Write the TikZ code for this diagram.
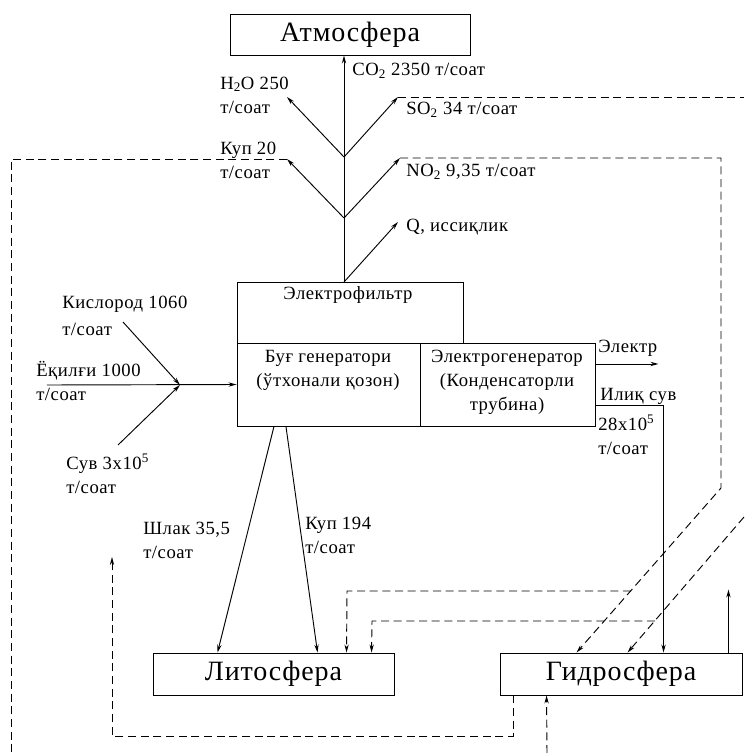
\documentclass[tikz,border=0pt]{standalone}
\usepackage{fontspec}
\setmainfont{Liberation Serif}[LetterSpace=3]
\usetikzlibrary{arrows.meta}

\tikzset{
  box/.style={draw, line width=0.7pt, inner sep=0pt},
  lbl/.style={font=\fontsize{14}{18}\selectfont, align=left, inner sep=0pt},
  big/.style={font=\fontsize{21}{24}\selectfont},
  dsh/.style={line width=0.7pt, dash pattern=on 6pt off 3.5pt},
  flow/.style={line width=0.7pt, -{Stealth[length=6pt,width=3.2pt]}},
  back/.style={flow, dash pattern=on 6pt off 3.5pt},
}

\begin{document}
\begin{tikzpicture}[x=0.75pt,y=-0.75pt]
\useasboundingbox (0,0) rectangle (744,753);
% spheres and plant
\node[box, big, minimum width=180pt, minimum height=30.75pt] (atm) at (350,34.5) {Атмосфера};
\node[box, minimum width=169.5pt, minimum height=45.75pt] (filt) at (350,312.5) {};
\node[box, minimum width=137.25pt, minimum height=62.25pt] (bug) at (328.5,384.5) {};
\node[box, minimum width=131.25pt, minimum height=62.25pt] (gen) at (507.5,384.5) {};
\node[box, big, minimum width=180.75pt, minimum height=31.5pt] (lit) at (273.5,674) {Литосфера};
\node[box, big, minimum width=181.5pt, minimum height=31.5pt] (gid) at (621,674) {Гидросфера};
\node[lbl, align=center] (filttxt) at (348,295) {Электрофильтр};
\node[lbl, align=center] (bugtxt) at (328,370) {Буғ генератори\\(ўтхонали қозон)};
\node[lbl, align=center] (gentxt) at (507,382) {Электрогенератор\\(Конденсаторли\\трубина)};

% emissions
\coordinate (t0) at (344,282);
\coordinate (b1) at (344,157);
\coordinate (b2) at (344,218);
\coordinate (h2o) at (287,97);
\coordinate (so2) at (398,97);
\coordinate (kup) at (287,159);
\coordinate (no2) at (400,158);
\coordinate (q) at (398,222);
\draw[flow] (t0) -- (t0 |- atm.south);
\draw[flow] (b1) -- (h2o);
\draw[flow] (b1) -- (so2);
\draw[flow] (b2) -- (kup);
\draw[flow] (b2) -- (no2);
\draw[flow] (t0) -- (q);

% inputs
\coordinate (mix) at (180,385);
\coordinate (fuel) at (47,385);
\coordinate (oxy) at (123,322);
\coordinate (wat) at (118,445);
\draw[flow] (fuel) -- (bug.west);
\draw[flow] (oxy) -- (mix);
\draw[flow] (wat) -- (mix);

% outputs
\draw[flow] ([xshift=-40.9pt]bug.south) -- ([xshift=48.75pt]lit.north west);
\draw[flow] ([xshift=-31.9pt]bug.south) -- ([xshift=123.75pt]lit.north west);
\draw[flow] ([yshift=15.4pt]gen.east) -- ++(63,0) coordinate (el);
\draw[flow] ([yshift=-15.4pt]gen.east) -| ([xshift=123pt]gid.north west);
\draw[flow] ([xshift=-10.5pt]gid.north east) -- ++(0,-63) coordinate (up);

% dashed returns
\draw[dsh] (so2) -- (744,97);
\draw[dsh] (kup) -- (11,159) -- (11,753);
\draw[back] (no2) -| (721,488) -- ([xshift=57.75pt]gid.north west);
\draw[back] (631,591) -- (347,591) -- ([xshift=145.5pt]lit.north west);
\draw[back] (744,517) -- ([xshift=96pt]gid.north west);
\draw[back] (655,621) -- (372,621) -- ([xshift=164.25pt]lit.north west);
\draw[back] ([xshift=10.5pt]gid.south west) |- (112,736) -- (112,557);
\draw[back] (547,753) -- ([xshift=35.25pt]gid.south west);

% labels
\node[lbl, anchor=west] (h2olbl) at (220,95) {H\textsubscript{2}O 250\\т/соат};
\node[lbl, anchor=west] (co2lbl) at (352,71) {CO\textsubscript{2} 2350 т/соат};
\node[lbl, anchor=west] (so2lbl) at (406,110) {SO\textsubscript{2} 34 т/соат};
\node[lbl, anchor=west] (kuplbl) at (220,160) {Куп 20\\т/соат};
\node[lbl, anchor=west] (no2lbl) at (406,172) {NO\textsubscript{2} 9,35 т/соат};
\node[lbl, anchor=west] (qlbl) at (406,227) {Q, иссиқлик};
\node[lbl, anchor=west] (oxylbl) at (62,316) {Кислород 1060\\[2pt]т/соат};
\node[lbl, anchor=west] (fuellbl) at (36,381) {Ёқилғи 1000\\т/соат};
\node[lbl, anchor=west] (watlbl) at (66,474) {Сув 3x10\textsuperscript{5}\\т/соат};
\node[lbl, anchor=west] (slaglbl) at (143,540) {Шлак 35,5\\т/соат};
\node[lbl, anchor=west] (ashlbl) at (305,535) {Куп 194\\т/соат};
\node[lbl, anchor=west] (ellbl) at (598,348) {Электр};
\node[lbl, anchor=west] (warmlbl) at (600,396) {Илиқ сув};
\node[lbl, anchor=west] (wflbl) at (598,435) {28x10\textsuperscript{5}\\т/соат};
\end{tikzpicture}
\end{document}
